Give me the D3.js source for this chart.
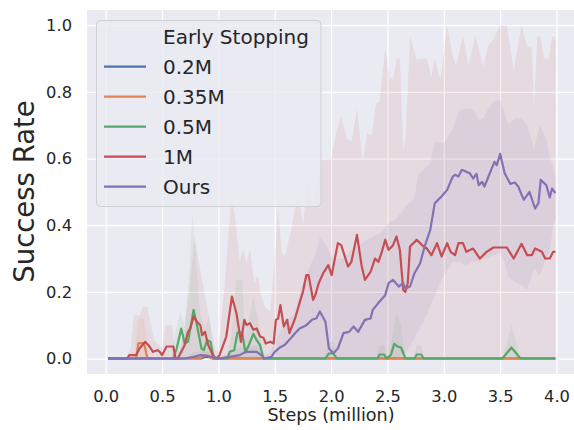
<!DOCTYPE html>
<html>
<head>
<meta charset="utf-8">
<script src="https://cdn.jsdelivr.net/npm/d3@7"></script>
<style>
  html, body { margin: 0; padding: 0; background: #ffffff; }
  svg { display: block; font-family: "DejaVu Sans", sans-serif; }
</style>
</head>
<body>
<svg id="chart" width="574" height="430"></svg>
<script>
// ---- mean success rate per run (steps in million) ----
const blueSteps = [0.02, 0.85, 0.88, 0.92, 0.95, 3.99];
const blueRate  = [0, 0, 0.005, 0.005, 0, 0];

const orangeSteps = [0.02, 0.27, 0.29, 0.34, 0.37, 0.84, 0.87, 0.91, 0.94, 3.99];
const orangeRate  = [0, 0, 0.046, 0.046, 0, 0, 0.008, 0.008, 0, 0];

const greenSteps = [0.02, 0.60, 0.63, 0.67, 0.70, 0.73, 0.78, 0.81, 0.85, 0.87,
  0.90, 0.93, 0.96, 1.08, 1.10, 1.14, 1.17, 1.21, 1.24, 1.27,
  1.31, 1.34, 1.37, 1.40, 1.95, 1.98, 2.02, 2.05, 2.41, 2.43,
  2.47, 2.49, 2.53, 2.56, 2.59, 2.62, 2.66, 2.74, 2.76, 2.80,
  2.82, 3.52, 3.60, 3.68, 3.99];
const greenRate = [0, 0, 0.03, 0.09, 0.046, 0.05, 0.146, 0.10, 0.03, 0.025,
  0.055, 0.05, 0, 0, 0.02, 0.025, 0.078, 0.078, 0.018, 0.04,
  0.074, 0.055, 0.04, 0, 0, 0.015, 0.015, 0, 0, 0.012,
  0.012, 0, 0.01, 0.044, 0.036, 0.033, 0, 0, 0.012, 0.012,
  0, 0, 0.033, 0, 0];

const redSteps = [0.02, 0.19, 0.21, 0.27, 0.30, 0.35, 0.38, 0.42, 0.46, 0.48,
  0.50, 0.54, 0.60, 0.62, 0.64, 0.70, 0.73, 0.75, 0.78, 0.81,
  0.84, 0.855, 0.88, 0.91, 0.95, 0.98, 1.01, 1.07, 1.12, 1.16,
  1.20, 1.23, 1.25, 1.28, 1.31, 1.34, 1.37, 1.40, 1.42, 1.46,
  1.49, 1.51, 1.53, 1.55, 1.58, 1.61, 1.63, 1.68, 1.72, 1.75,
  1.78, 1.80, 1.84, 1.86, 1.89, 1.93, 1.975, 2.005, 2.06, 2.09,
  2.15, 2.18, 2.23, 2.27, 2.30, 2.33, 2.35, 2.39, 2.42, 2.45,
  2.48, 2.51, 2.55, 2.58, 2.61, 2.64, 2.66, 2.68, 2.70, 2.76,
  2.82, 2.85, 2.89, 2.94, 2.98, 3.03, 3.06, 3.10, 3.13, 3.17,
  3.20, 3.26, 3.32, 3.38, 3.44, 3.56, 3.62, 3.69, 3.74, 3.78,
  3.81, 3.87, 3.90, 3.94, 3.97, 3.99];
const redRate = [0, 0, 0.01, 0.01, 0.03, 0.05, 0.04, 0.02, 0.025, 0.02,
  0.01, 0.036, 0.036, 0, 0, 0.04, 0.08, 0.09, 0.126, 0.11,
  0.10, 0.07, 0.08, 0.04, 0.01, 0, 0.01, 0.066, 0.186, 0.136,
  0.05, 0.116, 0.10, 0.106, 0.086, 0.09, 0.066, 0.062, 0.045, 0.05,
  0.045, 0.116, 0.12, 0.16, 0.096, 0.116, 0.076, 0.12, 0.166, 0.20,
  0.25, 0.25, 0.176, 0.19, 0.226, 0.256, 0.28, 0.25, 0.346, 0.34,
  0.276, 0.29, 0.371, 0.28, 0.236, 0.25, 0.26, 0.30, 0.29, 0.32,
  0.356, 0.326, 0.34, 0.366, 0.326, 0.206, 0.20, 0.226, 0.336, 0.356,
  0.336, 0.33, 0.31, 0.346, 0.306, 0.346, 0.32, 0.31, 0.346, 0.346,
  0.32, 0.33, 0.30, 0.32, 0.333, 0.333, 0.30, 0.344, 0.31, 0.31,
  0.33, 0.32, 0.30, 0.30, 0.32, 0.32];

const oursSteps = [0.02, 0.70, 0.78, 0.84, 0.90, 0.96, 1.00, 1.10, 1.19, 1.24,
  1.34, 1.38, 1.41, 1.47, 1.50, 1.55, 1.59, 1.64, 1.68, 1.72,
  1.78, 1.83, 1.87, 1.90, 1.95, 1.98, 2.02, 2.06, 2.11, 2.16,
  2.20, 2.24, 2.30, 2.35, 2.37, 2.43, 2.48, 2.51, 2.55, 2.60,
  2.64, 2.66, 2.70, 2.74, 2.79, 2.83, 2.88, 2.92, 2.95, 2.98,
  3.03, 3.08, 3.10, 3.13, 3.16, 3.20, 3.23, 3.26, 3.29, 3.31,
  3.34, 3.36, 3.39, 3.42, 3.45, 3.47, 3.50, 3.54, 3.59, 3.63,
  3.66, 3.71, 3.76, 3.81, 3.84, 3.86, 3.91, 3.94, 3.96, 3.99];
const oursRate = [0, 0, 0.005, 0.01, 0.008, 0.003, 0, 0.005, 0.01, 0.02,
  0.02, 0.01, 0, 0.005, 0.02, 0.034, 0.041, 0.06, 0.076, 0.09,
  0.10, 0.116, 0.121, 0.141, 0.11, 0.031, 0.016, 0.03, 0.076, 0.08,
  0.096, 0.08, 0.116, 0.12, 0.146, 0.171, 0.19, 0.226, 0.236, 0.216,
  0.226, 0.21, 0.216, 0.256, 0.286, 0.336, 0.386, 0.466, 0.476, 0.486,
  0.506, 0.546, 0.551, 0.546, 0.566, 0.56, 0.556, 0.54, 0.554, 0.52,
  0.53, 0.516, 0.54, 0.566, 0.59, 0.58, 0.614, 0.556, 0.524, 0.528,
  0.516, 0.476, 0.50, 0.45, 0.466, 0.536, 0.52, 0.483, 0.51, 0.496];

// ---- spread bands (upper edge; lower edge is 0 unless listed) ----
const orangeBandSteps = [0.02, 0.25, 0.29, 0.34, 0.39, 0.82, 0.87, 0.91, 0.96, 3.99];
const orangeBandHigh  = [0, 0, 0.12, 0.12, 0, 0, 0.03, 0.03, 0, 0];

const greenBandSteps = [0.02, 0.58, 0.62, 0.66, 0.70, 0.74, 0.77, 0.80, 0.84, 0.88,
  0.92, 0.96, 1.08, 1.12, 1.16, 1.21, 1.24, 1.27, 1.31, 1.35,
  1.40, 1.94, 1.98, 2.02, 2.06, 2.40, 2.43, 2.47, 2.50, 2.53,
  2.58, 2.62, 2.66, 2.73, 2.76, 2.80, 2.83, 3.52, 3.60, 3.68,
  3.99];
const greenBandHigh = [0, 0, 0.08, 0.14, 0.10, 0.25, 0.436, 0.30, 0.13, 0.09,
  0.13, 0, 0, 0.08, 0.236, 0.236, 0.06, 0.12, 0.186, 0.12,
  0, 0, 0.05, 0.05, 0, 0, 0.04, 0.04, 0, 0.04,
  0.14, 0.10, 0, 0, 0.04, 0.04, 0, 0, 0.10, 0,
  0];

const redBandSteps = [0.02, 0.18, 0.22, 0.25, 0.30, 0.33, 0.37, 0.40, 0.43, 0.50,
  0.53, 0.59, 0.62, 0.66, 0.70, 0.74, 0.79, 0.82, 0.85, 0.89,
  0.93, 0.97, 1.00, 1.05, 1.12, 1.16, 1.19, 1.22, 1.25, 1.28,
  1.32, 1.35, 1.37, 1.41, 1.46, 1.50, 1.53, 1.56, 1.59, 1.64,
  1.68, 1.71, 1.75, 1.80, 1.83, 1.86, 1.92, 2.00, 2.05, 2.09,
  2.14, 2.18, 2.23, 2.28, 2.32, 2.36, 2.40, 2.43, 2.48, 2.52,
  2.55, 2.58, 2.61, 2.64, 2.66, 2.70, 2.76, 2.79, 2.85, 2.89,
  2.92, 2.97, 3.03, 3.08, 3.11, 3.17, 3.22, 3.28, 3.35, 3.39,
  3.44, 3.50, 3.56, 3.62, 3.69, 3.74, 3.78, 3.80, 3.83, 3.86,
  3.89, 3.93, 3.96, 3.99];
const redBandHigh = [0, 0, 0.03, 0.13, 0.13, 0.155, 0.155, 0.10, 0.056, 0.03,
  0.10, 0.10, 0.01, 0.03, 0.09, 0.20, 0.366, 0.30, 0.246, 0.17,
  0.10, 0.03, 0.02, 0.20, 0.50, 0.386, 0.29, 0.33, 0.286, 0.326,
  0.226, 0.25, 0.20, 0.156, 0.14, 0.306, 0.45, 0.32, 0.306, 0.377,
  0.45, 0.50, 0.40, 0.546, 0.456, 0.50, 0.60, 0.60, 0.686, 0.726,
  0.66, 0.65, 0.75, 0.59, 0.676, 0.67, 0.766, 0.77, 0.93, 0.846,
  0.836, 0.90, 0.90, 0.626, 0.66, 0.966, 0.896, 0.90, 0.90, 0.846,
  0.90, 0.836, 1.0, 0.906, 0.88, 0.966, 0.88, 0.97, 0.876, 0.936,
  0.956, 1.0, 1.0, 0.866, 1.0, 0.934, 0.934, 0.756, 0.966, 0.966,
  0.90, 0.90, 0.966, 0.966];

const oursBandSteps = [0.02, 0.70, 0.78, 0.90, 1.00, 1.15, 1.35, 1.42, 1.46, 1.55,
  1.61, 1.68, 1.72, 1.81, 1.87, 1.90, 1.96, 2.02, 2.10, 2.20,
  2.32, 2.45, 2.52, 2.57, 2.67, 2.74, 2.77, 2.82, 2.88, 2.92,
  3.00, 3.04, 3.08, 3.14, 3.20, 3.26, 3.31, 3.35, 3.39, 3.44,
  3.50, 3.54, 3.57, 3.63, 3.69, 3.74, 3.80, 3.85, 3.91, 3.94,
  3.97, 3.99];
const oursBandLow = [0, 0, 0, 0, 0, 0, 0, 0, 0, 0,
  0, 0, 0, 0, 0, 0, 0, 0, 0, 0,
  0, 0, 0, 0, 0.02, 0.06, 0.08, 0.11, 0.156, 0.19,
  0.25, 0.27, 0.29, 0.29, 0.28, 0.29, 0.29, 0.30, 0.30, 0.31,
  0.316, 0.29, 0.246, 0.23, 0.22, 0.206, 0.27, 0.25, 0.30, 0.32,
  0.40, 0.42];
const oursBandHigh = [0, 0, 0.02, 0.02, 0, 0.03, 0.04, 0.01, 0.02, 0.08,
  0.116, 0.136, 0.196, 0.276, 0.32, 0.366, 0.336, 0.30, 0.30, 0.33,
  0.356, 0.38, 0.41, 0.416, 0.46, 0.48, 0.55, 0.566, 0.586, 0.65,
  0.646, 0.666, 0.69, 0.746, 0.75, 0.746, 0.716, 0.72, 0.746, 0.77,
  0.776, 0.736, 0.70, 0.72, 0.72, 0.70, 0.63, 0.70, 0.66, 0.60,
  0.576, 0.54];

// ---- labels, ticks, colours ----
const legendTitle = "Early Stopping";
const seriesLabels = ["0.2M", "0.35M", "0.5M", "1M", "Ours"];
const seriesColors = ["#4C72B0", "#DD8452", "#55A868", "#C44E52", "#8172B3"];
const xTicks = [0, 0.5, 1.0, 1.5, 2.0, 2.5, 3.0, 3.5, 4.0];
const yTicks = [0, 0.2, 0.4, 0.6, 0.8, 1.0];
const xLabel = "Steps (million)";
const yLabel = "Success Rate";

// ---- layout ----
const svg = d3.select("#chart");
const plot = { left: 87, top: 10, right: 578, bottom: 374 };
const x = d3.scaleLinear().domain([0, 4]).range([105.7, 556.5]);
const y = d3.scaleLinear().domain([0, 1]).range([358.5, 25.2]);
const textColor = "#262626";

svg.append("defs").append("clipPath").attr("id", "plot-clip")
  .append("rect")
  .attr("x", plot.left).attr("y", plot.top)
  .attr("width", plot.right - plot.left).attr("height", plot.bottom - plot.top);

// axes background
svg.append("rect")
  .attr("x", plot.left).attr("y", plot.top)
  .attr("width", plot.right - plot.left).attr("height", plot.bottom - plot.top)
  .attr("fill", "#EAEAF2");

// x grid + tick labels
const gx = svg.append("g")
  .attr("transform", `translate(0,${plot.bottom})`)
  .call(d3.axisBottom(x).tickValues(xTicks).tickFormat(d3.format(".1f"))
    .tickSize(-(plot.bottom - plot.top)));
gx.select(".domain").remove();
gx.selectAll(".tick line").attr("stroke", "#ffffff").attr("stroke-width", 1.25);
gx.selectAll(".tick text")
  .attr("y", 28).attr("dy", null)
  .attr("fill", textColor).style("font-size", "16.3px")
  .style("font-family", "'DejaVu Sans', sans-serif");

// y grid + tick labels
const gy = svg.append("g")
  .attr("transform", `translate(${plot.left},0)`)
  .call(d3.axisLeft(y).tickValues(yTicks).tickFormat(d3.format(".1f"))
    .tickSize(-(plot.right - plot.left)));
gy.select(".domain").remove();
gy.selectAll(".tick line").attr("stroke", "#ffffff").attr("stroke-width", 1.25);
gy.selectAll(".tick text")
  .attr("x", -15).attr("dy", "0.32em")
  .attr("fill", textColor).style("font-size", "16.3px")
  .style("font-family", "'DejaVu Sans', sans-serif");

const layer = svg.append("g").attr("clip-path", "url(#plot-clip)");

// shaded spread bands
const area = d3.area()
  .x(d => x(d[0]))
  .y0(d => y(d[1]))
  .y1(d => y(d[2]));

const bands = [
  { steps: orangeBandSteps, low: null, high: orangeBandHigh, color: seriesColors[1] },
  { steps: greenBandSteps, low: null, high: greenBandHigh, color: seriesColors[2] },
  { steps: redBandSteps, low: null, high: redBandHigh, color: seriesColors[3] },
  { steps: oursBandSteps, low: oursBandLow, high: oursBandHigh, color: seriesColors[4] }
];
bands.forEach(b => {
  const rows = b.steps.map((s, i) => [s, b.low ? b.low[i] : 0, b.high[i]]);
  layer.append("path")
    .attr("d", area(rows))
    .attr("fill", b.color)
    .attr("fill-opacity", 0.1)
    .attr("stroke", "none");
});

// mean curves
const line = d3.line().x(d => x(d[0])).y(d => y(d[1]));
const curves = [
  [blueSteps, blueRate],
  [orangeSteps, orangeRate],
  [greenSteps, greenRate],
  [redSteps, redRate],
  [oursSteps, oursRate]
];
curves.forEach((c, i) => {
  layer.append("path")
    .attr("d", line(d3.zip(c[0], c[1])))
    .attr("fill", "none")
    .attr("stroke", seriesColors[i])
    .attr("stroke-width", 2.2)
    .attr("stroke-linejoin", "round")
    .attr("stroke-linecap", "butt");
});

// axis titles
svg.append("text")
  .attr("x", 331).attr("y", 421)
  .attr("text-anchor", "middle")
  .attr("fill", textColor)
  .style("font-size", "17.6px")
  .text(xLabel);

svg.append("text")
  .attr("transform", "translate(33.5,191.5) rotate(-90)")
  .attr("text-anchor", "middle")
  .attr("fill", textColor)
  .style("font-size", "27.5px")
  .text(yLabel);

// legend
const legend = svg.append("g");
legend.append("rect")
  .attr("x", 96.5).attr("y", 20.5)
  .attr("width", 224.5).attr("height", 186)
  .attr("rx", 4).attr("ry", 4)
  .attr("fill", "#EAEAF2").attr("fill-opacity", 0.8)
  .attr("stroke", "#cfcfd4").attr("stroke-width", 1);

legend.append("text")
  .attr("x", 163).attr("y", 44)
  .attr("fill", textColor)
  .style("font-size", "20px")
  .text(legendTitle);

seriesLabels.forEach((label, i) => {
  const cy = 66.7 + 30 * i;
  legend.append("line")
    .attr("x1", 104).attr("x2", 146)
    .attr("y1", cy).attr("y2", cy)
    .attr("stroke", seriesColors[i]).attr("stroke-width", 2.2);
  legend.append("text")
    .attr("x", 163).attr("y", cy + 7.3)
    .attr("fill", textColor)
    .style("font-size", "20px")
    .text(label);
});
</script>
</body>
</html>
